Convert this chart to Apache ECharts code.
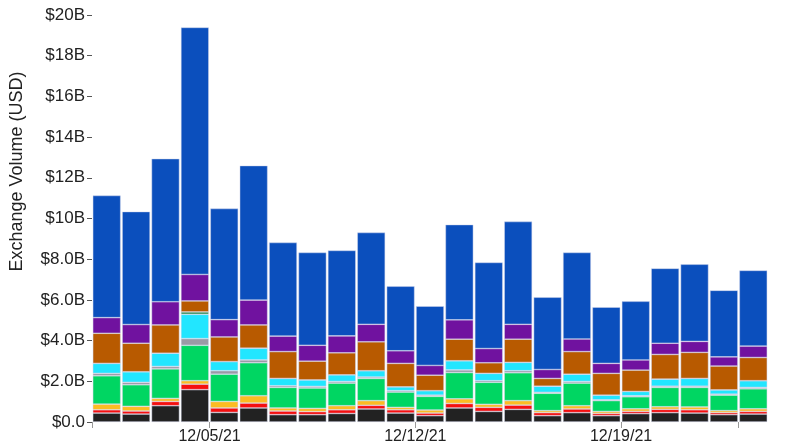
<!DOCTYPE html>
<html>
<head>
<meta charset="utf-8">
<script src="https://cdn.jsdelivr.net/npm/echarts@6/dist/echarts.min.js"></script>
<style>
  html, body { margin: 0; padding: 0; background: #fff; }
  #volume-bar { width: 800px; height: 445px; }
</style>
</head>
<body>
<div id="volume-bar"></div>
<script>
// daily exchange volume, billions of USD, one value per layer (bottom to top)
const dates = ['12/01/21', '12/02/21', '12/03/21', '12/04/21', '12/05/21', '12/06/21', '12/07/21', '12/08/21',
  '12/09/21', '12/10/21', '12/11/21', '12/12/21', '12/13/21', '12/14/21', '12/15/21', '12/16/21',
  '12/17/21', '12/18/21', '12/19/21', '12/20/21', '12/21/21', '12/22/21', '12/23/21']
const tickDays = [0, 4, 11, 18, 22]
const labelDays = [4, 11, 18]

const black = [0.44, 0.39, 0.80, 1.59, 0.47, 0.69, 0.36, 0.36, 0.42, 0.64, 0.44, 0.31, 0.69, 0.52, 0.62, 0.31, 0.46, 0.31, 0.41, 0.46, 0.44, 0.36, 0.39]
const red = [0.16, 0.15, 0.21, 0.27, 0.22, 0.24, 0.18, 0.15, 0.18, 0.18, 0.16, 0.13, 0.22, 0.20, 0.21, 0.15, 0.18, 0.11, 0.11, 0.16, 0.16, 0.10, 0.13]
const yellow = [0.28, 0.23, 0.15, 0.17, 0.32, 0.36, 0.15, 0.16, 0.20, 0.23, 0.12, 0.15, 0.23, 0.15, 0.22, 0.10, 0.16, 0.10, 0.13, 0.13, 0.14, 0.10, 0.13]
const green = [1.39, 1.06, 1.45, 1.74, 1.34, 1.62, 1.01, 1.00, 1.11, 1.09, 0.75, 0.67, 1.29, 1.08, 1.37, 0.85, 1.11, 0.53, 0.59, 0.95, 0.96, 0.76, 0.98]
const gray = [0.12, 0.12, 0.12, 0.33, 0.17, 0.14, 0.08, 0.08, 0.08, 0.07, 0.07, 0.06, 0.13, 0.08, 0.10, 0.05, 0.08, 0.04, 0.05, 0.06, 0.06, 0.05, 0.07]
const cyan = [0.49, 0.52, 0.65, 1.19, 0.45, 0.58, 0.36, 0.32, 0.33, 0.31, 0.19, 0.22, 0.45, 0.36, 0.41, 0.30, 0.36, 0.23, 0.21, 0.35, 0.38, 0.21, 0.33]
const darkGreen = [0, 0, 0, 0.12, 0, 0, 0, 0, 0, 0, 0, 0, 0, 0, 0, 0, 0, 0, 0, 0, 0, 0, 0]
const brown = [1.48, 1.40, 1.39, 0.54, 1.21, 1.14, 1.32, 0.92, 1.08, 1.42, 1.15, 0.76, 1.06, 0.52, 1.14, 0.38, 1.11, 1.07, 1.05, 1.21, 1.28, 1.17, 1.14]
const purple = [0.77, 0.92, 1.14, 1.30, 0.85, 1.22, 0.76, 0.78, 0.83, 0.86, 0.62, 0.48, 0.95, 0.70, 0.73, 0.44, 0.62, 0.49, 0.50, 0.55, 0.54, 0.45, 0.56]
const blue = [6.00, 5.55, 7.03, 12.14, 5.46, 6.61, 4.60, 4.56, 4.20, 4.51, 3.17, 2.91, 4.68, 4.23, 5.05, 3.55, 4.25, 2.76, 2.88, 3.68, 3.79, 3.27, 3.72]

let layers = [
  { name: 'A', color: '#222222', data: black },
  { name: 'B', color: '#f50f0f', data: red },
  { name: 'C', color: '#fcbc22', data: yellow },
  { name: 'D', color: '#00d662', data: green },
  { name: 'E', color: '#9a9aa6', data: gray },
  { name: 'F', color: '#22e6ff', data: cyan },
  { name: 'G', color: '#2e8b4e', data: darkGreen },
  { name: 'H', color: '#b85a00', data: brown },
  { name: 'I', color: '#70129f', data: purple },
  { name: 'J', color: '#0b4fbd', data: blue }
]

let chart = echarts.init(document.getElementById('volume-bar'))
let option = {
  animation: false,
  textStyle: {
    fontFamily: 'Liberation Sans, Arial, sans-serif'
  },
  grid: {
    top: 15,
    left: 87,
    right: 32,
    bottom: 22
  },
  xAxis: [
    {
      type: 'category',
      data: dates,
      show: false
    },
    {
      // only draws the date ticks, bars sit on the category axis
      type: 'value',
      min: 0,
      max: 23,
      position: 'bottom',
      axisLine: { show: false },
      splitLine: { show: false },
      axisTick: {
        show: true,
        customValues: tickDays,
        length: 6,
        lineStyle: { color: '#999' }
      },
      axisLabel: {
        customValues: labelDays,
        color: '#222',
        fontSize: 16,
        margin: 7,
        formatter: function(v) {
          return dates[v]
        }
      }
    }
  ],
  yAxis: {
    type: 'value',
    min: 0,
    max: 20,
    interval: 2,
    name: 'Exchange Volume (USD)',
    nameLocation: 'middle',
    nameGap: 66,
    nameTextStyle: {
      color: '#222',
      fontSize: 18,
      padding: [0, 0, 0, 94]
    },
    axisLine: { show: false },
    splitLine: { show: false },
    axisTick: {
      show: true,
      length: 5,
      lineStyle: { color: '#555' }
    },
    axisLabel: {
      color: '#222',
      fontSize: 17,
      margin: 7,
      formatter: function(v) {
        if (v === 0) return '$0.0'
        return v >= 10 ? '$' + v + 'B' : '$' + v.toFixed(1) + 'B'
      }
    }
  },
  series: layers.map(l => {
    return {
      name: l.name,
      type: 'bar',
      stack: 'volume',
      xAxisIndex: 0,
      barCategoryGap: '5%',
      itemStyle: {
        color: l.color,
        borderColor: 'rgba(210,216,236,0.8)',
        borderWidth: 0.6
      },
      data: l.data
    }
  })
}
chart.setOption(option)
</script>
</body>
</html>
